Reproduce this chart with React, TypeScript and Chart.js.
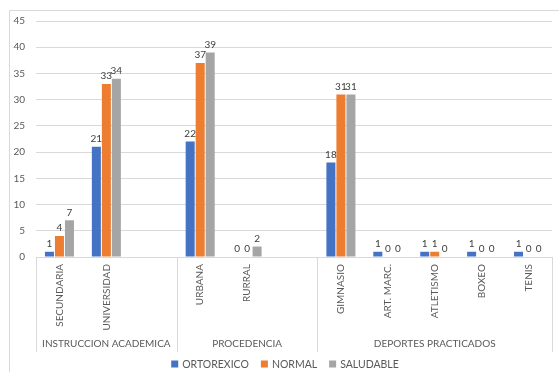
import React, { useEffect, useRef } from "react";
import { Chart, registerables } from "chart.js";

Chart.register(...registerables);

const categories = ["SECUNDARIA", "UNIVERSIDAD", "", "URBANA", "RURRAL", "", "GIMNASIO", "ART. MARC.", "ATLETISMO", "BOXEO", "TENIS"];
const groups = ["INSTRUCCION ACADEMICA", "PROCEDENCIA", "DEPORTES PRACTICADOS"];
const groupSizes = [3, 3, 5];
const ortorexico = [1, 21, null, 22, 0, null, 18, 1, 1, 1, 1];
const normal = [4, 33, null, 37, 0, null, 31, 0, 1, 0, 0];
const saludable = [7, 34, null, 39, 2, null, 31, 0, 0, 0, 0];
const seriesNames = ["ORTOREXICO", "NORMAL", "SALUDABLE"];
const seriesColors = ["#4472C4", "#ED7D31", "#A5A5A5"];
const yTicks = { min: 0, max: 45, step: 5 };

const FONT = "Lato, 'Open Sans', sans-serif";
const TEXT = "#595959";
const GRID = "#d9d9d9";

const extrasPlugin = {
  id: "extras",
  afterDraw(chart: any) {
    const ctx = chart.ctx;
    const x = chart.scales.x;
    const area = chart.chartArea;
    ctx.save();
    // outer border
    ctx.strokeStyle = GRID;
    ctx.lineWidth = 1;
    ctx.beginPath();
    ctx.moveTo(9.5, chart.height);
    ctx.lineTo(9.5, 10.5);
    ctx.lineTo(chart.width, 10.5);
    ctx.stroke();
    // data labels
    ctx.font = `10px ${FONT}`;
    ctx.fillStyle = "#404040";
    ctx.textAlign = "center";
    ctx.textBaseline = "bottom";
    chart.data.datasets.forEach((ds: any, i: number) => {
      const meta = chart.getDatasetMeta(i);
      meta.data.forEach((el: any, j: number) => {
        const v = ds.data[j];
        if (v === null || v === undefined) return;
        ctx.fillText(String(v), el.x, el.y - 3);
      });
    });
    // group separators and labels
    const step = x.getPixelForValue(1) - x.getPixelForValue(0);
    const bottom = area.bottom + 95;
    ctx.strokeStyle = GRID;
    let idx = 0;
    const edges: number[] = [x.getPixelForValue(0) - step / 2];
    groupSizes.forEach((n) => {
      idx += n;
      edges.push(x.getPixelForValue(idx - 1) + step / 2);
    });
    edges.forEach((e) => {
      const px = Math.round(e) + 0.5;
      ctx.beginPath();
      ctx.moveTo(px, area.bottom);
      ctx.lineTo(px, bottom);
      ctx.stroke();
    });
    ctx.fillStyle = TEXT;
    ctx.textBaseline = "middle";
    ctx.font = `10px ${FONT}`;
    groups.forEach((g, i) => {
      ctx.fillText(g, (edges[i] + edges[i + 1]) / 2, area.bottom + 87);
    });
    // legend
    ctx.font = `10.5px ${FONT}`;
    const box = 7, gapText = 4, gapItem = 12;
    const widths = seriesNames.map((n) => box + gapText + ctx.measureText(n).width);
    const total = widths.reduce((a, b) => a + b, 0) + gapItem * (widths.length - 1);
    let lx = 285 - total / 2;
    const ly = area.bottom + 107;
    ctx.textAlign = "left";
    seriesNames.forEach((n, i) => {
      ctx.fillStyle = seriesColors[i];
      ctx.fillRect(lx, ly - box / 2, box, box);
      ctx.fillStyle = TEXT;
      ctx.fillText(n, lx + box + gapText, ly + 0.5);
      lx += widths[i] + gapItem;
    });
    ctx.restore();
  },
};

export default function App() {
  const ref = useRef<HTMLCanvasElement>(null);
  useEffect(() => {
    document.body.style.margin = "0";
    const chart = new Chart(ref.current!, {
      type: "bar",
      data: {
        labels: categories,
        datasets: [ortorexico, normal, saludable].map((d, i) => ({
          label: seriesNames[i],
          data: d,
          backgroundColor: seriesColors[i],
          categoryPercentage: 0.64,
          barPercentage: 0.9,
        })),
      },
      options: {
        animation: false,
        responsive: false,
        maintainAspectRatio: false,
        layout: { padding: { top: 21, right: 7, left: 0, bottom: 20 } },
        plugins: {
          tooltip: { enabled: false },
          legend: { display: false },
        },
        scales: {
          x: {
            grid: { display: false, drawTicks: false },
            border: { display: true, color: GRID },
            ticks: {
              minRotation: 90,
              maxRotation: 90,
              autoSkip: false,
              padding: 7,
              color: TEXT,
              font: { family: FONT, size: 10 },
            },
            afterFit(scale: any) {
              scale.height = 95;
            },
          },
          y: {
            min: yTicks.min,
            max: yTicks.max,
            ticks: {
              stepSize: yTicks.step,
              padding: 11,
              color: TEXT,
              font: { family: FONT, size: 10 },
            },
            grid: { color: GRID, drawTicks: false },
            border: { display: false },
            afterFit(scale: any) {
              scale.width = 36;
            },
          },
        },
      },
      plugins: [extrasPlugin],
    });
    return () => chart.destroy();
  }, []);
  return (
    <div style={{ width: 559, height: 372 }}>
      <canvas ref={ref} width={559} height={372} style={{ display: "block" }} />
    </div>
  );
}
